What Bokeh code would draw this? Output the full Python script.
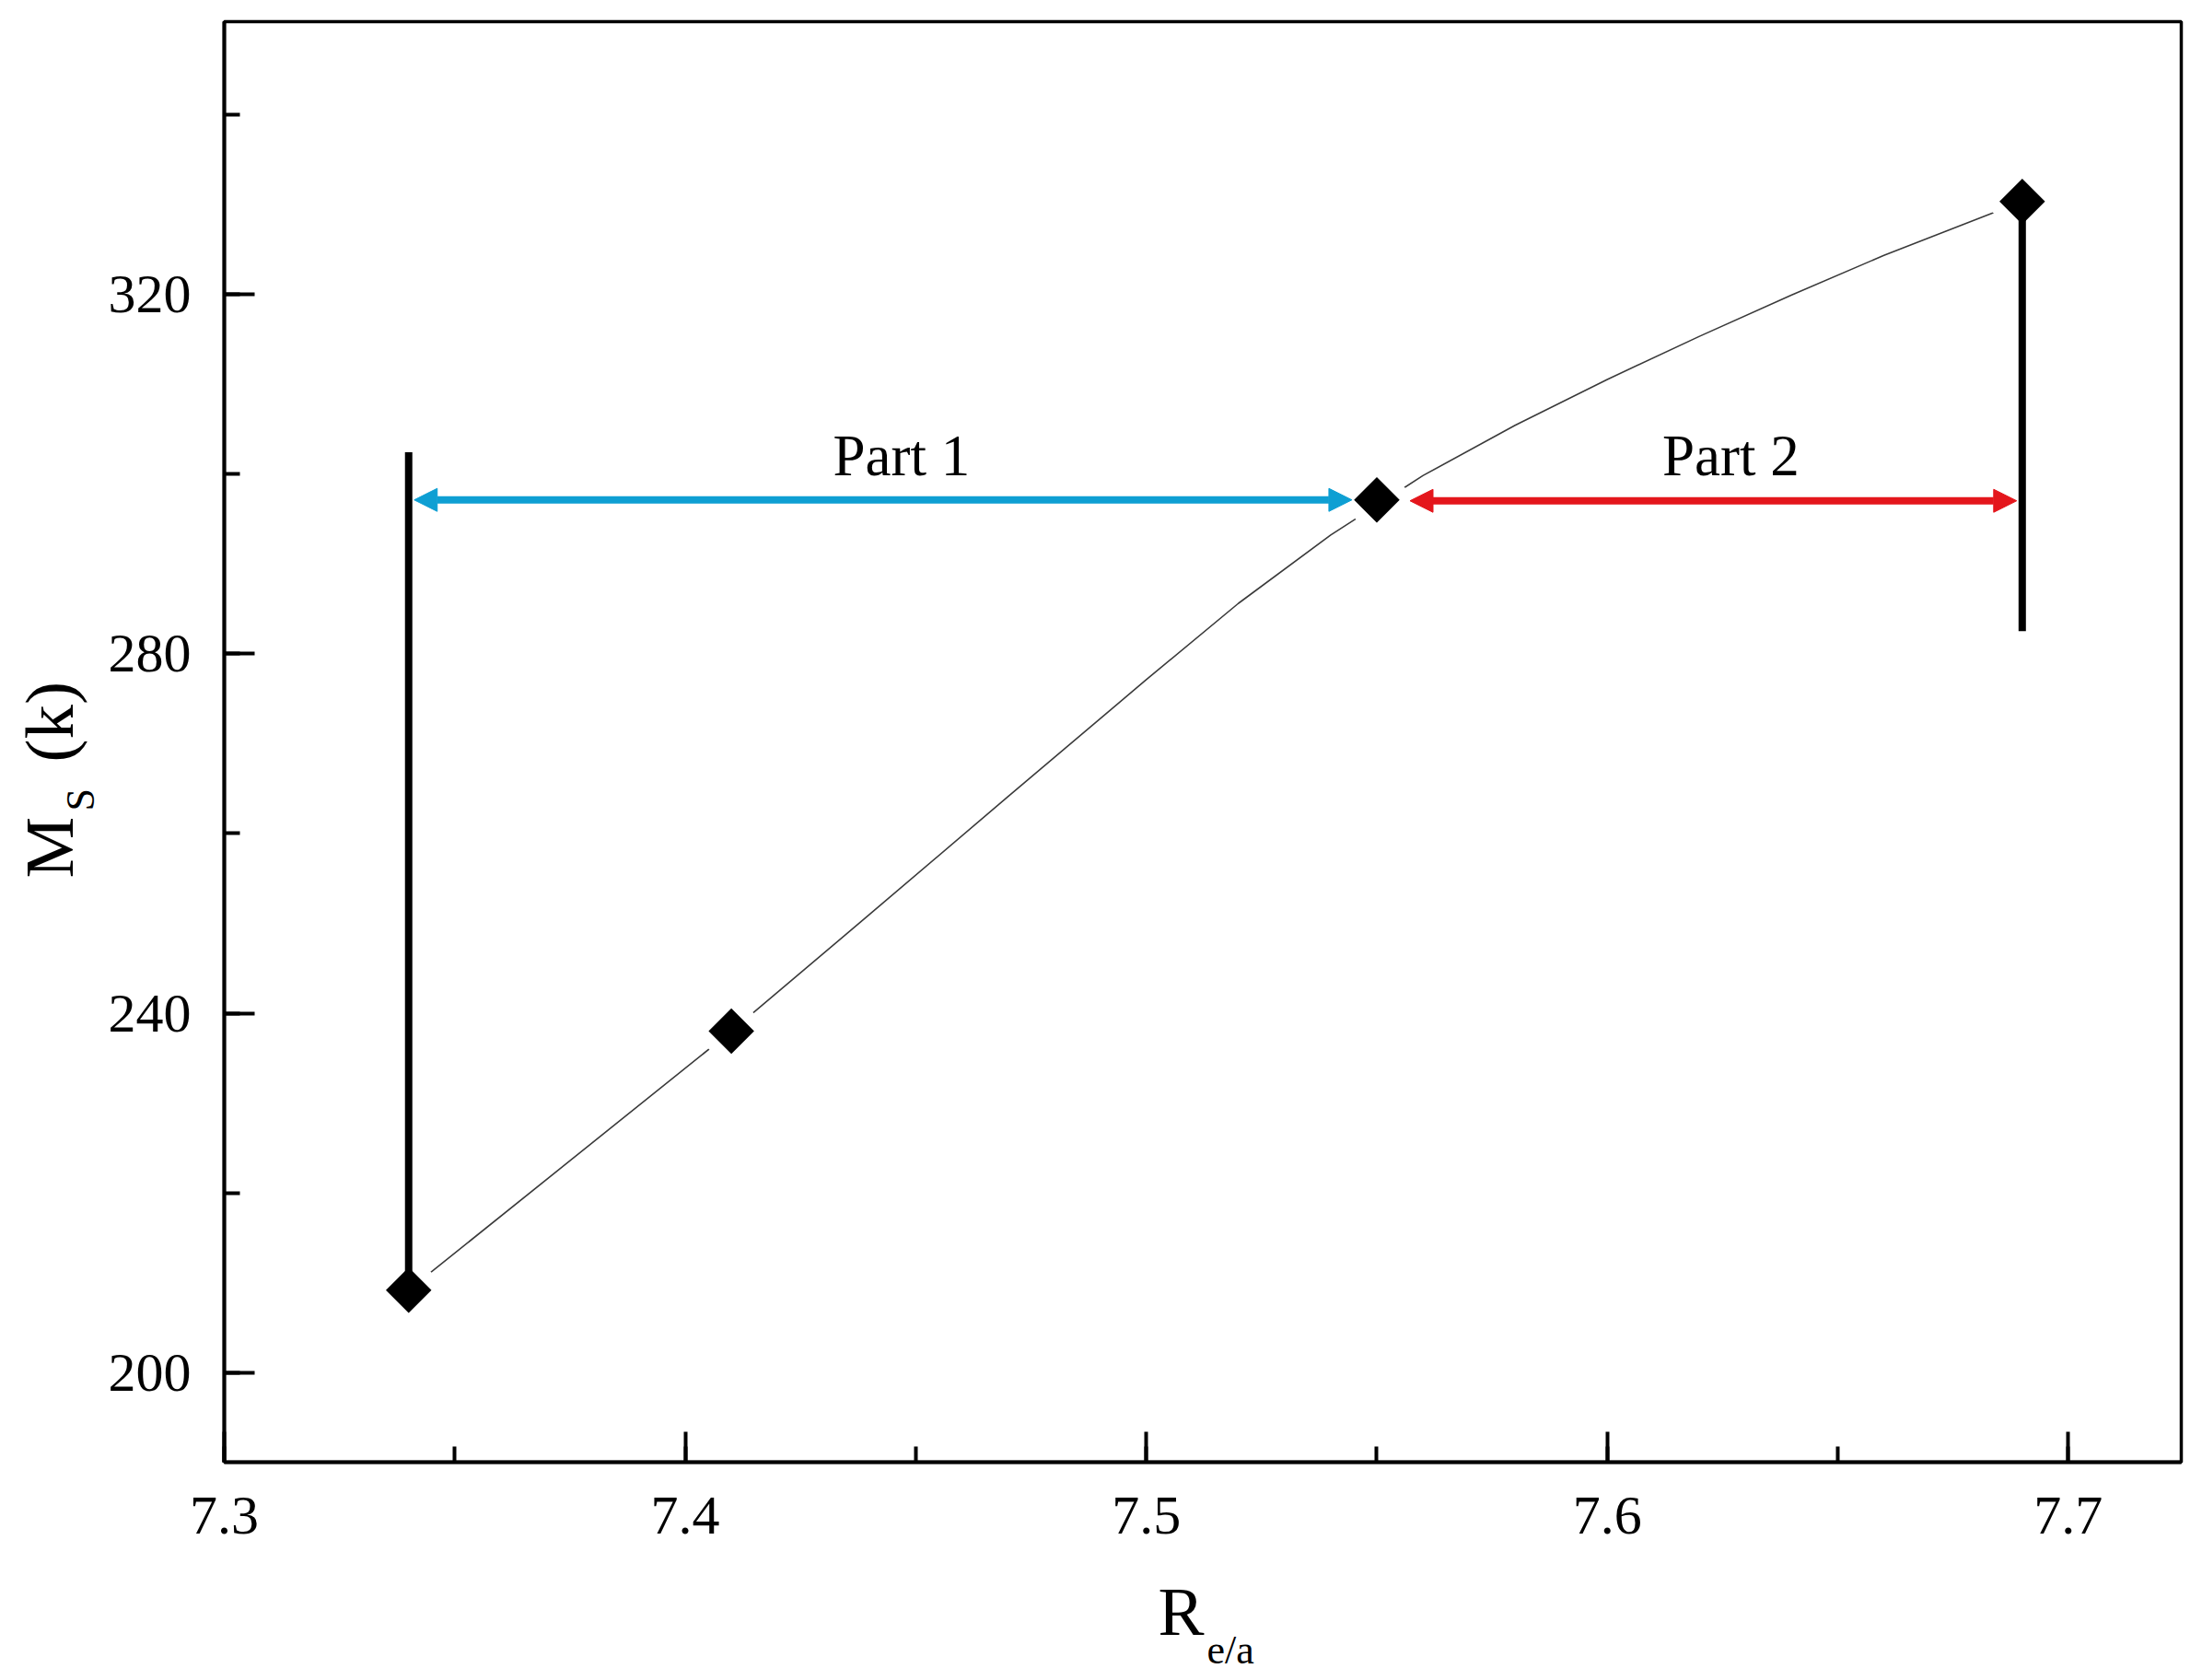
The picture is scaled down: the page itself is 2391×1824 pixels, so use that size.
from math import pi
from bokeh.plotting import figure
from bokeh.layouts import column, row
from bokeh.models import Range1d, SingleIntervalTicker, Label, Arrow, NormalHead
from bokeh.embed import file_html
from bokeh.resources import INLINE

# measured points
r_ea = [7.34, 7.41, 7.55, 7.69]
ms = [209.2, 238.0, 297.1, 330.3]

# smooth guide curve
curve_x = [7.34, 7.375, 7.41, 7.44, 7.47, 7.50, 7.52, 7.54, 7.56, 7.58, 7.60, 7.62, 7.64, 7.66, 7.69]
curve_y = [209.2, 223.6, 238.0, 251.0, 264.1, 277.1, 285.6, 293.2, 299.8, 305.4, 310.5, 315.3, 319.9, 324.3, 330.3]

# vertical bars at both ends
bar_x = [7.34, 7.69]
bar_y0 = [209.2, 330.3]
bar_y1 = [302.4, 282.5]

# the two arrows
part_names = ["Part 1", "Part 2"]
arrow_x0 = [7.3412, 7.5572]
arrow_x1 = [7.5446, 7.6888]
arrow_y = [297.1, 297.0]
label_x = [7.4469, 7.6268]
label_y = [302.0, 302.0]
arrow_colors = ["#0e9fd3", "#e4161c"]

FONT = "Liberation Serif"

p = figure(width=2269, height=1697, output_backend="svg", toolbar_location=None, tools="",
           x_range=Range1d(7.3, 7.7245), y_range=Range1d(190.06, 350.3),
           min_border_left=127, min_border_right=15, min_border_top=23, min_border_bottom=110)

p.grid.grid_line_color = None
p.outline_line_color = "black"
p.outline_line_width = 3.5

p.xaxis.ticker = SingleIntervalTicker(interval=0.1, num_minor_ticks=2)
p.yaxis.ticker = SingleIntervalTicker(interval=40, num_minor_ticks=2)
for ax in [p.xaxis, p.yaxis]:
    ax.axis_line_width = 4
    ax.axis_line_color = "black"
    ax.major_tick_line_width = 4
    ax.minor_tick_line_width = 4
    ax.major_tick_in = 33
    ax.major_tick_out = 0
    ax.minor_tick_in = 17
    ax.minor_tick_out = 0
    ax.major_label_text_font = FONT
    ax.major_label_text_font_size = "60px"
    ax.major_label_text_color = "black"
p.xaxis.major_label_standoff = 38
p.yaxis.major_label_standoff = 36

# curve, then a white halo around the markers to leave a gap
p.line(curve_x, curve_y, line_color="#3a3a3a", line_width=1.6)
p.scatter(r_ea, ms, marker="square", angle=pi/4, size=62, fill_color="white", line_color=None)
p.segment(x0=bar_x, y0=bar_y0, x1=bar_x, y1=bar_y1, line_color="black", line_width=8)
p.scatter(r_ea, ms, marker="square", angle=pi/4, size=35, fill_color="black", line_color=None)

for i in range(2):
    c = arrow_colors[i]
    p.add_layout(Arrow(start=NormalHead(size=25, fill_color=c, line_color=c),
                       end=NormalHead(size=25, fill_color=c, line_color=c),
                       x_start=arrow_x0[i], x_end=arrow_x1[i], y_start=arrow_y[i], y_end=arrow_y[i],
                       line_color=c, line_width=8))
    p.add_layout(Label(x=label_x[i], y=label_y[i], text=part_names[i], text_align="center",
                       text_baseline="alphabetic", text_font=FONT, text_font_size="63px",
                       text_color="black"))


def title_panel(w, h):
    f = figure(width=w, height=h, output_backend="svg", toolbar_location=None, tools="",
               x_axis_type=None, y_axis_type=None, x_range=Range1d(0, 1), y_range=Range1d(0, 1),
               min_border=0)
    f.outline_line_color = None
    f.grid.grid_line_color = None
    return f


# y title: M_S (k)  (this panel's frame lines up with the plot frame)
ytitle = title_panel(114, 1697)
for txt, sx, sy, size in [("M", 53, 634, "75px"), ("S", 87, 707, "44px"), ("(k)", 53, 760, "75px")]:
    ytitle.add_layout(Label(x=sx, y=sy, x_units="screen", y_units="screen", text=txt, angle=pi/2,
                            text_font=FONT, text_font_size=size, text_baseline="alphabetic",
                            text_color="black"))

# x title: R_e/a
xtitle = title_panel(2383, 123)
for txt, sx, sy, size in [("R", 1257, 71, "75px"), ("e/a", 1310, 29, "44px")]:
    xtitle.add_layout(Label(x=sx, y=sy, x_units="screen", y_units="screen", text=txt,
                            text_font=FONT, text_font_size=size, text_baseline="alphabetic",
                            text_color="black"))

layout = column(row(ytitle, p), xtitle)
open("out.html", "w").write(file_html(layout, INLINE))
